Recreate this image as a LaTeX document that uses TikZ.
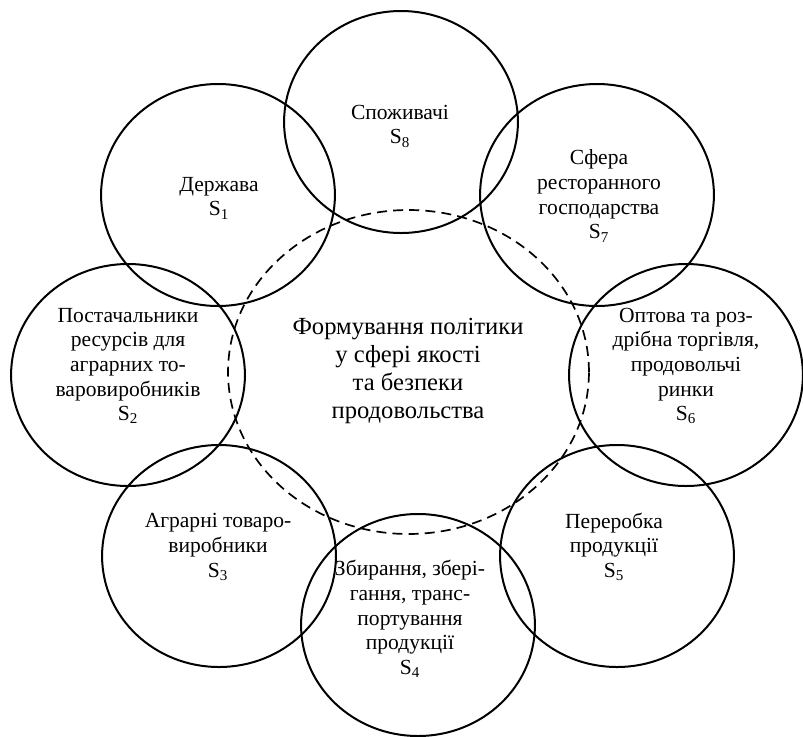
\documentclass[tikz,border=0pt]{standalone}
\usepackage{fontspec}
\setmainfont{Liberation Serif}
\usetikzlibrary{shapes.geometric}
\tikzset{x=0.65pt,y=-0.65pt}
\tikzset{party/.style={ellipse,draw,line width=1.3pt,minimum width=152pt,minimum height=144.3pt,inner sep=0pt}}
\tikzset{partytext/.style={align=center,font=\fontsize{14}{16}\selectfont,inner sep=0pt}}
\tikzset{core/.style={ellipse,draw,line width=1.1pt,dash pattern=on 6.5pt off 4pt,minimum width=234.6pt,minimum height=210.6pt,inner sep=0pt}}

\begin{document}
\begin{tikzpicture}
        \useasboundingbox (0,0) rectangle (803,737);

        \node[core] (c0) at (408.5,372) {};
        \node[align=center,font=\fontsize{16}{18}\selectfont] (t0) at (408,371)
            {Формування політики\\у сфері якості\\та безпеки\\продовольства};

        \node[party] (c1) at (218,195) {};
        \node[party] (c2) at (128,375) {};
        \node[party] (c3) at (219,556) {};
        \node[party] (c4) at (418,625) {};
        \node[party] (c5) at (617,556) {};
        \node[party] (c6) at (686,375) {};
        \node[party] (c7) at (597,195) {};
        \node[party] (c8) at (401,122) {};

        \node[partytext] (t1) at (219,198) {Держава\\S\textsubscript{1}};
        \node[partytext] (t2) at (128,366) {Постачальники\\ресурсів для\\аграрних то-\\варовиробників\\S\textsubscript{2}};
        \node[partytext] (t3) at (218,547) {Аграрні товаро-\\виробники\\S\textsubscript{3}};
        \node[partytext] (t4) at (410,619) {Збирання, збері-\\гання, транс-\\портування\\продукції\\S\textsubscript{4}};
        \node[partytext] (t5) at (614,547) {Переробка\\продукції\\S\textsubscript{5}};
        \node[partytext] (t6) at (686,366) {Оптова та роз-\\дрібна торгівля,\\продовольчі\\ринки\\S\textsubscript{6}};
        \node[partytext] (t7) at (599,196) {Сфера\\ресторанного\\господарства\\S\textsubscript{7}};
        \node[partytext] (t8) at (400,126) {Споживачі\\S\textsubscript{8}};
\end{tikzpicture}
\end{document}
